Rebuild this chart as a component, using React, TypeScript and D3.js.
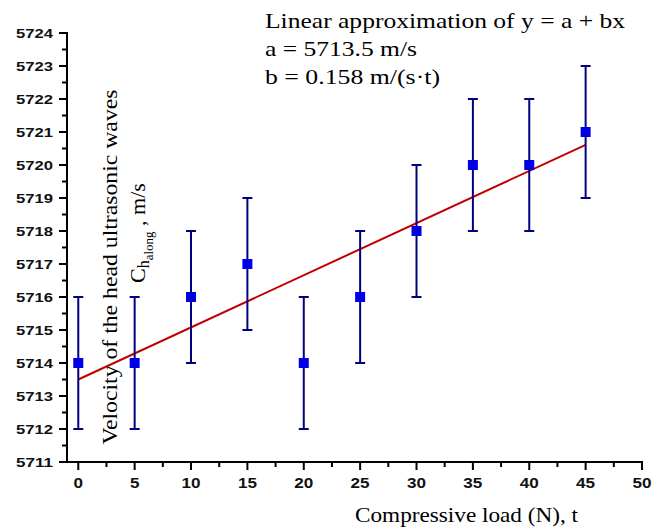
import React from 'react';
import * as d3 from 'd3';

const loads = [0, 5, 10, 15, 20, 25, 30, 35, 40, 45];
const velocities = [5714, 5714, 5716, 5717, 5714, 5716, 5718, 5720, 5720, 5721];
const errors = [2, 2, 2, 2, 2, 2, 2, 2, 2, 2];
const fitA = 5713.5;
const fitB = 0.158;
const xTicks = [0, 5, 10, 15, 20, 25, 30, 35, 40, 45, 50];
const yTicks = [5711, 5712, 5713, 5714, 5715, 5716, 5717, 5718, 5719, 5720, 5721, 5722, 5723, 5724];
const titleLines = ['Linear approximation of y = a + bx', 'a = 5713.5 m/s', 'b = 0.158 m/(s\u00b7t)'];
const titleWidths = [360, 152, 175];

const W = 665, H = 529;
const SERIF = 'Liberation Serif';
const SANS = 'Liberation Sans';

export default function App() {
  const x = d3.scaleLinear().domain([-1, 50]).range([67, 642]);
  const y = d3.scaleLinear().domain([5711, 5724]).range([462, 33]);
  const x0 = x.range()[0];
  const y0 = y.range()[0];

  const xMinor = d3.range(0, 50, 2.5).filter((v) => v % 5 !== 0);
  const yMinor = d3.range(5711.5, 5724, 1);

  const fitX = [0, 45];
  const line = d3.line<number>().x((d) => x(d)).y((d) => y(fitA + fitB * d));

  const serif = { fontFamily: SERIF };
  const sans = { fontFamily: SANS, fontWeight: 700 as const };

  return (
    <svg width={W} height={H} style={{ position: 'absolute', left: 0, top: 0, background: '#fff' }}>
      <rect width={W} height={H} fill="#fff" />
      {/* axes */}
      <line x1={x0} x2={x0} y1={y(5724) - 1} y2={y0 + 1} stroke="#000" strokeWidth={2} />
      <line x1={x0 - 1} x2={x(50) + 1} y1={y0} y2={y0} stroke="#000" strokeWidth={2} />
      {yTicks.map((t) => (
        <g key={'yt' + t}>
          <line x1={x0 - 8} x2={x0} y1={y(t)} y2={y(t)} stroke="#000" strokeWidth={2} />
          <text x={53} y={y(t)} dy="0.36em" textAnchor="end" fontSize={13} style={sans}
            textLength={37} lengthAdjust="spacingAndGlyphs" fill="#111">{t}</text>
        </g>
      ))}
      {yMinor.map((t) => (
        <line key={'ym' + t} x1={x0 - 5} x2={x0} y1={y(t)} y2={y(t)} stroke="#000" strokeWidth={2} />
      ))}
      {xTicks.map((t) => (
        <g key={'xt' + t}>
          <line x1={x(t)} x2={x(t)} y1={y0} y2={y0 + 8} stroke="#000" strokeWidth={2} />
          <text x={x(t)} y={488} textAnchor="middle" fontSize={14} style={sans}
            textLength={String(t).length * 9.5} lengthAdjust="spacingAndGlyphs" fill="#111">{t}</text>
        </g>
      ))}
      {xMinor.map((t) => (
        <line key={'xm' + t} x1={x(t)} x2={x(t)} y1={y0} y2={y0 + 5} stroke="#000" strokeWidth={2} />
      ))}

      {/* y label */}
      <text transform="translate(117,267) rotate(-90)" textAnchor="middle" fontSize={22} style={serif}
        textLength={355} lengthAdjust="spacingAndGlyphs" fill="#000">
        Velocity of the head ultrasonic waves
      </text>
      <text transform="translate(145,283) rotate(-90)" textAnchor="start" fontSize={22} style={serif} fill="#000">
        C<tspan fontSize={16} dy={4}>h</tspan><tspan fontSize={13} dy={4}>along</tspan><tspan dy={-8}> , m/s</tspan>
      </text>

      {/* fit line */}
      <path d={line(fitX) || ''} fill="none" stroke="#c00000" strokeWidth={2} />

      {/* error bars */}
      {loads.map((l, i) => {
        const cx = x(l);
        const yt = y(velocities[i] + errors[i]);
        const yb = y(velocities[i] - errors[i]);
        return (
          <g key={'e' + i} stroke="#000080" strokeWidth={2}>
            <line x1={cx} x2={cx} y1={yt} y2={yb} />
            <line x1={cx - 5} x2={cx + 5} y1={yt} y2={yt} />
            <line x1={cx - 5} x2={cx + 5} y1={yb} y2={yb} />
          </g>
        );
      })}
      {/* markers */}
      {loads.map((l, i) => (
        <rect key={'m' + i} x={x(l) - 5} y={y(velocities[i]) - 5} width={10} height={10} fill="#0000e6" />
      ))}

      {/* title */}
      {titleLines.map((t, i) => (
        <text key={'tl' + i} x={265} y={28 + i * 28} fontSize={22} style={serif}
          textLength={titleWidths[i]} lengthAdjust="spacingAndGlyphs" fill="#000">{t}</text>
      ))}

      {/* x label */}
      <text x={355} y={522} fontSize={21} style={serif} textLength={223} lengthAdjust="spacingAndGlyphs" fill="#000">
        Compressive load (N), t
      </text>
    </svg>
  );
}
